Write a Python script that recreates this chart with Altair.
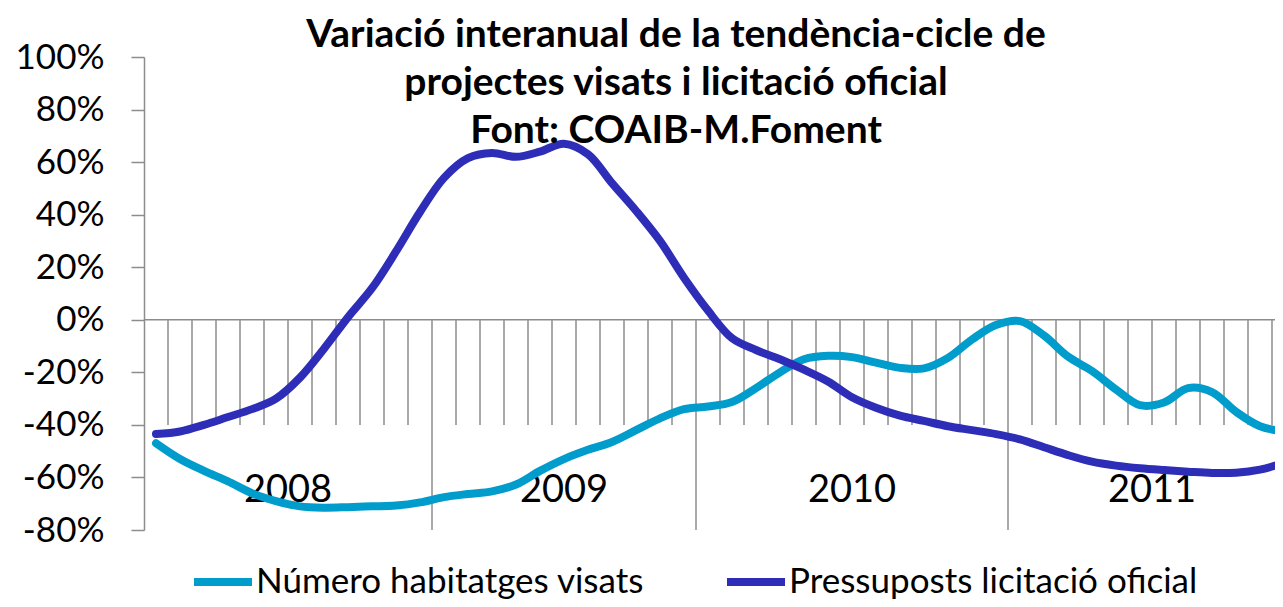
import altair as alt
import pandas as pd

series_names = ["Número habitatges visats", "Pressuposts licitació oficial"]
series_colors = ["#009CCB", "#2E2DB8"]

visats = [-47, -53, -57.5, -61.5, -66, -69, -71, -71.5, -71.3, -71, -70.7, -69.5,
          -67.5, -66.3, -65.3, -62.7, -57.5, -53, -49.5, -46.5, -42, -37.5, -34, -33,
          -31.3, -26, -20, -15, -13.7, -14.2, -16.3, -18.3, -18.5, -14.5, -7.5, -2,
          -0.5, -6, -14, -19.5, -26.5, -32.5, -31.5, -26, -27.5, -35, -40.5, -42.5]

licitacio = [-43.5, -42.5, -40, -37, -34, -30, -22, -11, 1, 12, 26, 41,
             54, 61.5, 63.5, 62, 64, 67, 63, 52, 41.5, 30, 16, 3.5,
             -7, -11.5, -15, -19, -23.5, -29.5, -33.5, -36.5, -38.5, -40.5, -42, -43.5,
             -45.5, -48.5, -51.5, -54, -55.5, -56.5, -57.2, -57.8, -58.3, -58.2, -57, -54.5]

year_labels = ["2008", "2009", "2010", "2011"]
year_bounds = [0, 12, 23, 36, 48]
y_ticks = [-80, -60, -40, -20, 0, 20, 40, 60, 80, 100]

title_lines = ["Variació interanual de la tendència-cicle de",
               "projectes visats i licitació oficial",
               "Font: COAIB-M.Foment"]

GREY = "#8C8C8C"
n = len(visats)

df = pd.DataFrame({
    "m": [i + 0.5 for i in range(n)] * 2,
    "v": visats + licitacio,
    "serie": [series_names[0]] * n + [series_names[1]] * n,
    "ord": [0] * n + [1] * n,
})

minor = [k for k in range(1, n) if k not in year_bounds]
df_minor = pd.DataFrame({"x": minor, "y": [0] * len(minor), "y2": [-40] * len(minor)})
major = year_bounds[1:]
df_major = pd.DataFrame({"x": major, "y": [0] * len(major), "y2": [-80] * len(major)})
df_years = pd.DataFrame({
    "label": year_labels,
    "xc": [(year_bounds[i] + year_bounds[i + 1]) / 2 for i in range(len(year_labels))],
})

xscale = alt.Scale(domain=[0, 47.125], nice=False, zero=False)
yscale = alt.Scale(domain=[-80, 100], nice=False, zero=False)
yaxis = alt.Axis(
    values=y_ticks, labelExpr="datum.value + '%'", title=None, grid=False,
    tickSize=13, tickWidth=1.5, tickColor=GREY, domainColor=GREY, domainWidth=1.5,
    labelFont="Lato", labelFontSize=35, labelColor="black", labelPadding=27,
)

zero_line = alt.Chart(pd.DataFrame({"y": [0]})).mark_rule(
    color=GREY, strokeWidth=1.5
).encode(y=alt.Y("y:Q", scale=yscale, axis=yaxis))

minor_ticks = alt.Chart(df_minor).mark_rule(color=GREY, strokeWidth=1.5, clip=True).encode(
    x=alt.X("x:Q", scale=xscale, axis=None),
    y=alt.Y("y:Q", scale=yscale, axis=yaxis),
    y2="y2:Q",
)

major_ticks = alt.Chart(df_major).mark_rule(color=GREY, strokeWidth=1.5, clip=True).encode(
    x=alt.X("x:Q", scale=xscale, axis=None),
    y=alt.Y("y:Q", scale=yscale, axis=yaxis),
    y2="y2:Q",
)

years = alt.Chart(df_years).mark_text(
    font="Lato", fontSize=38, baseline="alphabetic", align="center", color="black"
).encode(
    x=alt.X("xc:Q", scale=xscale, axis=None),
    y=alt.datum(-69.5),
    text="label:N",
)

title = alt.Chart(pd.DataFrame({"t": [0]})).mark_text(
    text=title_lines, font="Lato", fontSize=39, fontWeight="bold", color="black",
    align="center", baseline="alphabetic", lineHeight=48,
).encode(x=alt.value(532), y=alt.value(-10))

lines = alt.Chart(df).mark_line(
    strokeWidth=8, strokeCap="round", strokeJoin="round", interpolate="catmull-rom", clip=True
).encode(
    x=alt.X("m:Q", scale=xscale, axis=None),
    y=alt.Y("v:Q", scale=yscale, axis=yaxis),
    color=alt.Color("serie:N", scale=alt.Scale(domain=series_names, range=series_colors),
                    legend=alt.Legend(
                        orient="none", legendX=46, legendY=492, direction="horizontal",
                        columns=2, title=None, symbolType="stroke", symbolStrokeWidth=8,
                        symbolSize=3364, labelFont="Lato", labelFontSize=35,
                        labelColor="black", labelOffset=0, columnPadding=66, labelLimit=0,
                    )),
    order="ord:Q",
)

chart = alt.layer(zero_line, minor_ticks, major_ticks, years, lines, title).properties(
    width=1131,
    height=473,
    padding={"left": 136, "top": 49, "right": 0, "bottom": 69},
    autosize=alt.AutoSizeParams(type="none"),
).configure_view(stroke=None)

chart.save("out.html", embed_options={"renderer": "svg", "actions": False})
